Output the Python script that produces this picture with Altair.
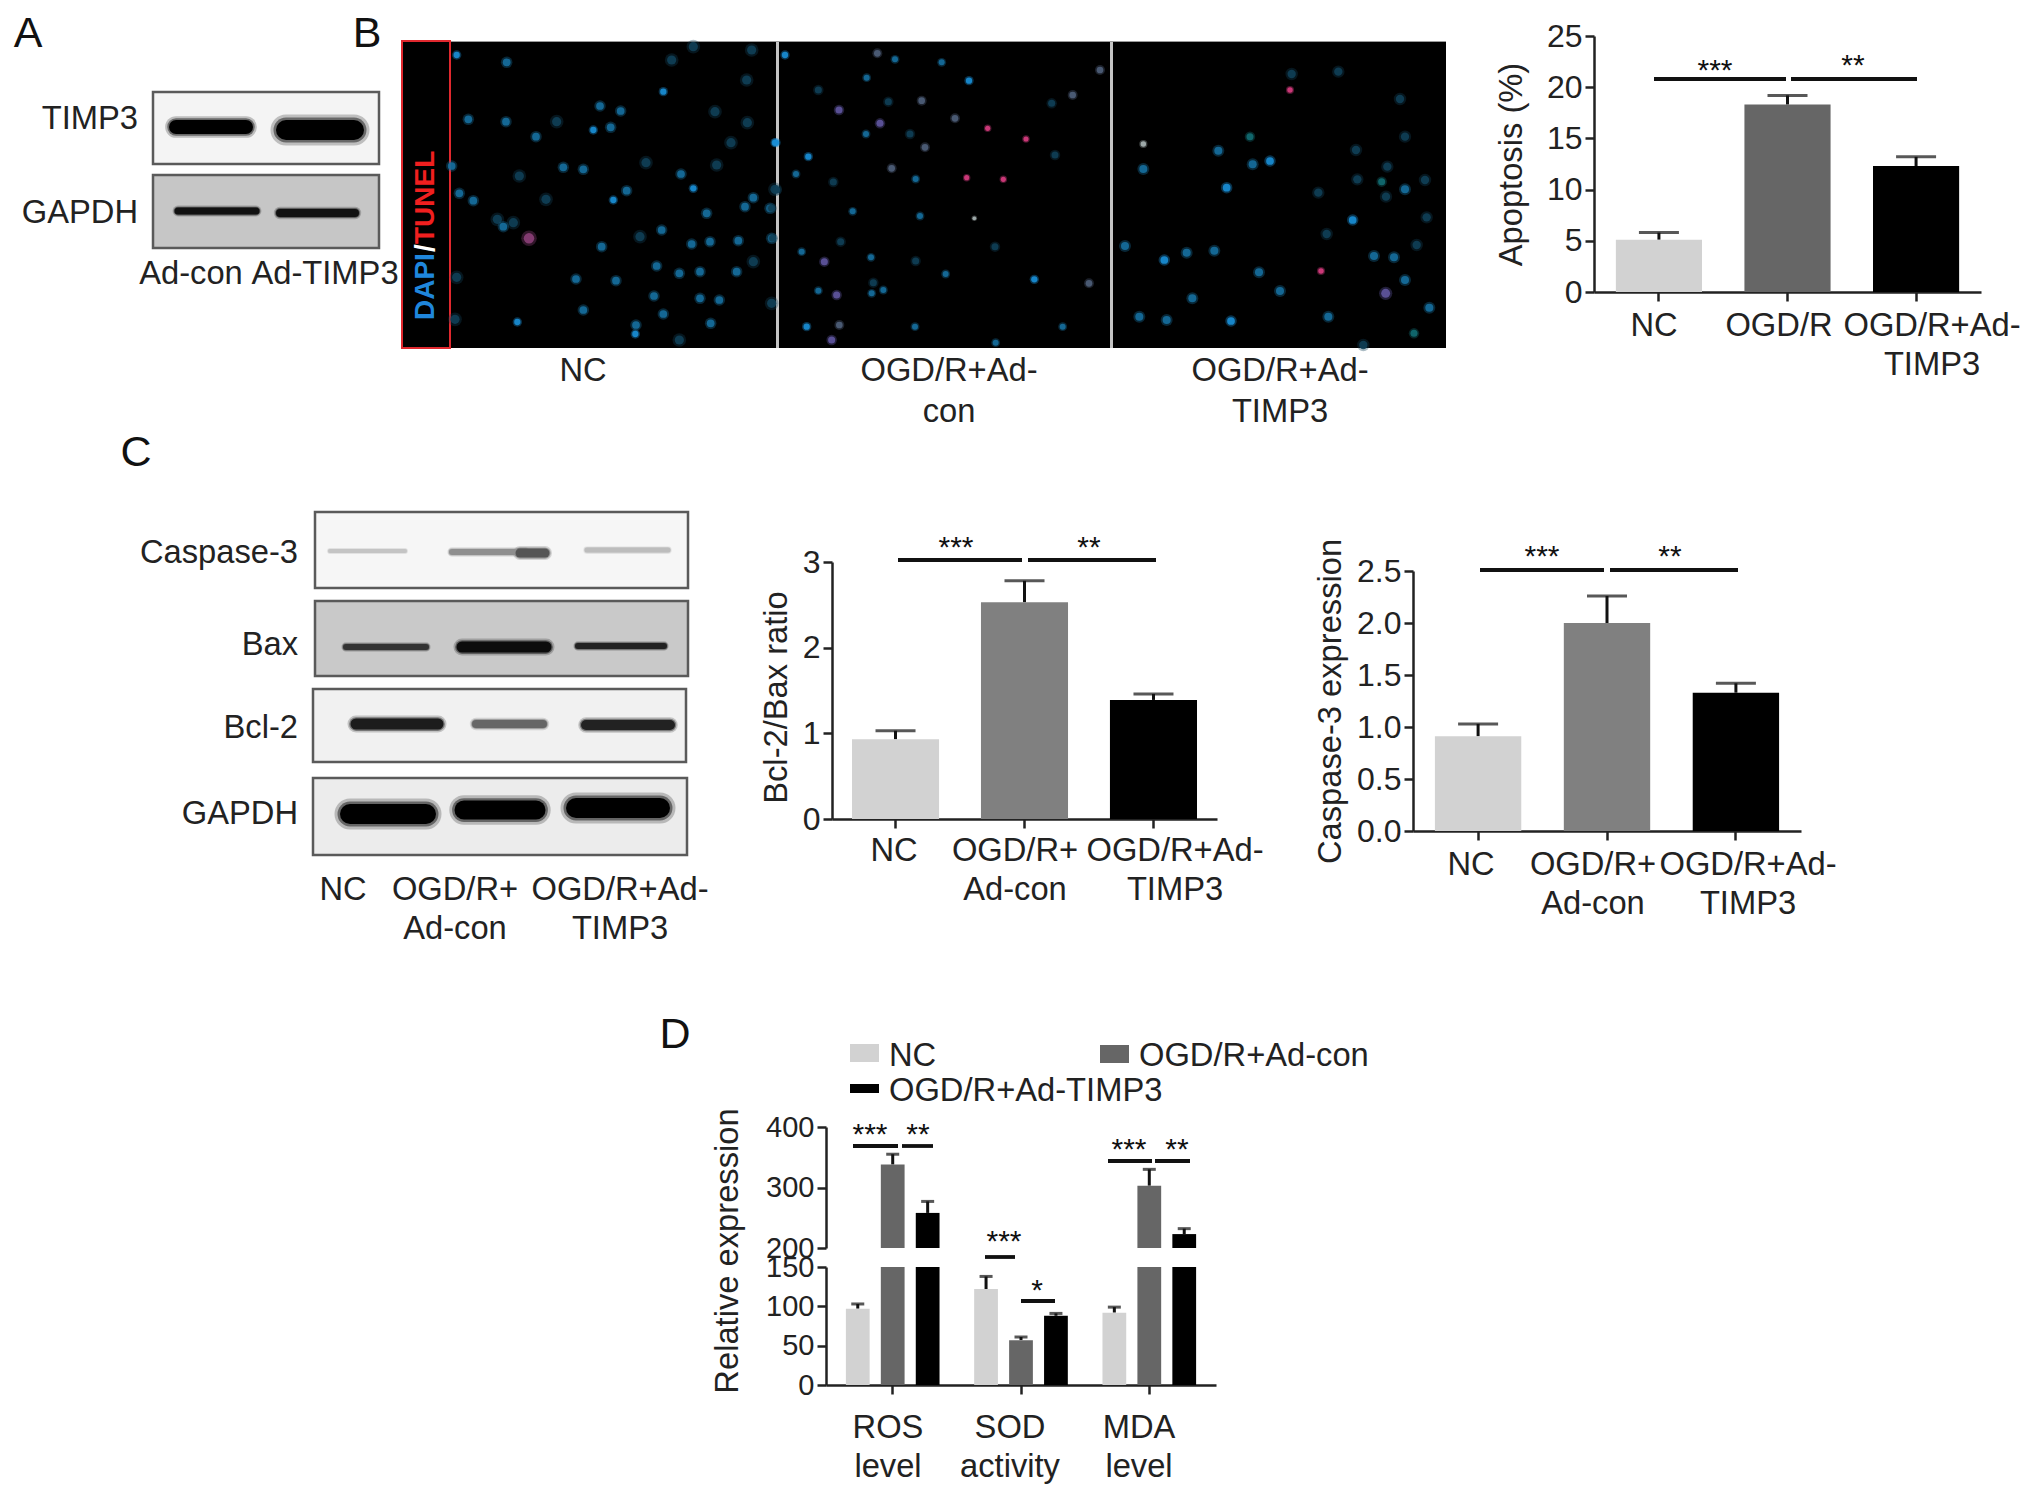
import altair as alt
import pandas as pd

FONT = "Liberation Sans"
INK = "#222222"
LIGHT, MID, MID2, DARK = "#d2d2d2", "#666666", "#808080", "#000000"

# ---- bar values
cats_b = ["NC", "OGD/R", "OGD/R+Ad-TIMP3"]
apop_vals = [5.1, 18.3, 12.3]
apop_errs = [5.8, 19.2, 13.2]
cats_c = ["NC", "OGD/R+Ad-con", "OGD/R+Ad-TIMP3"]
bcl_vals = [0.93, 2.53, 1.39]
bcl_errs = [1.03, 2.78, 1.46]
casp_vals = [0.91, 2.0, 1.33]
casp_errs = [1.03, 2.26, 1.42]
groups_d = ["ROS level", "SOD activity", "MDA level"]
series_d = ["NC", "OGD/R+Ad-con", "OGD/R+Ad-TIMP3"]
d_vals = [[97, 338, 258], [122, 57, 88], [92, 303, 223]]
d_errs = [[103, 355, 277], [138, 61, 91], [99, 330, 232]]

# ---- microscope fields: nuclei (crop px)
f1_norm = [(320,97),(205,268),(318,275),(600,228),(662,243),(632,292),(408,320),(155,408),(490,412),(550,418),(843,432),(178,490),(220,512),(680,482),(1060,503),(1035,530),(1110,535),(920,550),(310,590),(785,600),(605,650),(875,642),(930,635),(1015,632),(1115,625),(770,708),(838,730),(900,725),(1010,725),(528,747),(648,752),(762,798),(900,805),(958,810),(550,840),(790,852),(932,880),(708,885)]
f1_bright = [(170,75),(790,185),(580,300),(1125,338),(640,510),(880,475),(352,876),(706,912)]
f1_dim = [(815,90),(880,50),(1055,60),(1040,150),(470,275),(945,245),(1042,278),(993,338),(738,398),(950,405),(358,438),(438,508),(1125,478),(292,568),(340,578),(720,620),(1060,695),(170,742),(1115,820),(165,868),(838,930)]
f1_pink = [(387,625)]

f2_norm = [(375,88),(515,97),(290,143),(288,312),(78,432),(437,447),(248,544),(450,558),(95,665),(303,682),(527,732),(145,782),(305,790),(340,780),(435,890),(677,938),(878,890)]
f2_bright = [(45,75),(597,152),(18,338),(115,380),(793,748),(110,890)]
f2_dim = [(145,180),(355,215),(420,312),(190,456),(20,480),(5,535),(8,625),(212,635),(437,693),(675,650),(310,758),(845,220),(855,375)]
f2_gray = [(322,70),(455,212),(555,265),(465,352),(365,415),(957,760),(208,885),(908,195),(990,120)]
f2_purple = [(207,240),(330,280),(163,695),(200,795),(185,930)]
f2_pink = [(653,295),(768,327),(590,443),(700,448)]
f2_pale = [(613,565)]

f3_norm = [(355,362),(458,403),(130,417),(915,478),(75,648),(260,668),(343,662),(822,678),(882,682),(477,727),(915,750),(540,783),(277,805),(988,833),(118,860),(200,870),(685,860)]
f3_bright = [(510,393),(380,473),(758,570),(193,690),(393,873)]
f3_dim = [(575,132),(715,125),(900,207),(915,320),(768,360),(862,410),(772,448),(975,450),(655,488),(858,500),(980,562),(680,612),(950,645),(790,945)]
f3_teal = [(450,320),(845,455),(942,910)]
f3_pale = [(130,342)]
f3_purple = [(857,790)]
f3_pink = [(570,180),(663,723)]

# ---- blots: (x1, x2, y1, y2, fill)
blot_boxes = [
    (153, 379, 92, 164, "#f4f4f4"), (153, 379, 175, 248, "#c6c6c6"),
    (315, 688, 512, 588, "#f6f6f6"), (315, 688, 601, 676, "#c9c9c9"),
    (313, 686, 689, 762, "#f1f1f1"), (313, 687, 778, 855, "#ececec"),
]
# (x1, x2, y, thickness, colour)
blot_bands = [
    (176, 246, 127, 14, "#000000"), (286, 354, 130, 20, "#000000"),
    (178, 256, 211, 7, "#111111"), (280, 355, 213, 8, "#111111"),
    (330, 405, 551, 4, "#c4c4c4"), (452, 525, 552, 6, "#8f8f8f"), (520, 545, 553, 9, "#555555"), (587, 668, 550, 5, "#bcbcbc"),
    (346, 426, 647, 6, "#333333"), (462, 546, 647, 11, "#0c0c0c"), (578, 664, 646, 6, "#222222"),
    (356, 438, 724, 11, "#1c1c1c"), (476, 543, 724, 8, "#666666"), (586, 670, 725, 10, "#222222"),
    (350, 426, 814, 20, "#000000"), (464, 536, 810, 19, "#000000"), (576, 660, 808, 20, "#000000"),
]

# ---- brackets: (x1, x2, y)
brackets = [
    (1654, 1786, 79), (1791, 1917, 79),
    (898, 1022, 560), (1028, 1156, 560),
    (1480, 1604, 570), (1610, 1738, 570),
    (853, 898, 1146), (902, 933, 1146),
    (985, 1015, 1257), (1021, 1055, 1301),
    (1108, 1152, 1161), (1155, 1190, 1161),
]
# ---- significance: (text, x, y)
stars = [
    ("***", 1715, 69), ("**", 1853, 64),
    ("***", 956, 546), ("**", 1089, 546),
    ("***", 1542, 555), ("**", 1670, 555),
    ("***", 870, 1133), ("**", 918, 1133),
    ("***", 1004, 1240), ("*", 1037, 1289),
    ("***", 1129, 1148), ("**", 1177, 1148),
]
letters = [("A", 28, 32), ("B", 367, 32), ("C", 136, 451), ("D", 675, 1033)]
center_labels = [
    ("Ad-con", 191, 272), ("Ad-TIMP3", 325, 272),
    ("NC", 583, 369), ("OGD/R+Ad-", 949, 369), ("con", 949, 410), ("OGD/R+Ad-", 1280, 369), ("TIMP3", 1280, 410),
    ("NC", 1654, 324), ("OGD/R", 1779, 324), ("OGD/R+Ad-", 1932, 324), ("TIMP3", 1932, 363),
    ("NC", 343, 888), ("OGD/R+", 455, 888), ("Ad-con", 455, 927), ("OGD/R+Ad-", 620, 888), ("TIMP3", 620, 927),
    ("NC", 894, 849), ("OGD/R+", 1015, 849), ("Ad-con", 1015, 888), ("OGD/R+Ad-", 1175, 849), ("TIMP3", 1175, 888),
    ("NC", 1471, 863), ("OGD/R+", 1593, 863), ("Ad-con", 1593, 902), ("OGD/R+Ad-", 1748, 863), ("TIMP3", 1748, 902),
    ("ROS", 888, 1426), ("level", 888, 1465), ("SOD", 1010, 1426), ("activity", 1010, 1465), ("MDA", 1139, 1426), ("level", 1139, 1465),
]
right_labels = [("TIMP3", 138, 117), ("GAPDH", 138, 211), ("Caspase-3", 298, 551), ("Bax", 298, 643), ("Bcl-2", 298, 726), ("GAPDH", 298, 812)]
legend_text = [("NC", 889, 1054), ("OGD/R+Ad-con", 1139, 1054), ("OGD/R+Ad-TIMP3", 889, 1089)]
legend_boxes = [(850, 879, 1044, 1062, LIGHT), (1100, 1129, 1045, 1063, MID), (850, 879, 1084, 1093, DARK)]

W, H = 2016, 1470
TOP_PAD = 10
OX, OY = 8, 8 + TOP_PAD   # page px -> plot px
TEXT_DY = 2
PX = alt.Scale(domain=[0, 2032], range=[-OX, 2032 - OX])
PY = alt.Scale(domain=[0, 1496], range=[-OY, 1496 - OY])
px = lambda f="x": alt.X(f"{f}:Q", scale=PX, axis=None)
py = lambda f="y": alt.Y(f"{f}:Q", scale=PY, axis=None)


def texts(rows, size=32.7, align="center", color=INK, weight="normal", angle=0):
    df = pd.DataFrame(rows, columns=["t", "x", "y"])
    df["y"] = df["y"] + TEXT_DY
    return alt.Chart(df).mark_text(font=FONT, fontSize=size, align=align, baseline="middle",
                                   color=color, fontWeight=weight, angle=angle).encode(
        x=px(), y=py(), text="t:N")


def boxes(rows, stroke=None, sw=0):
    df = pd.DataFrame(rows, columns=["x", "x2", "y", "y2", "c"])
    kw = {"stroke": stroke, "strokeWidth": sw} if stroke else {}
    return alt.Chart(df).mark_rect(**kw).encode(
        x=px(), x2="x2:Q", y=py(), y2="y2:Q", color=alt.Color("c:N", scale=None))


def bands(rows, widen=1.0, opacity=1.0):
    df = pd.DataFrame(rows, columns=["x", "x2", "y", "t", "c"])
    df["t"] = df["t"] * widen
    return alt.Chart(df).mark_rule(strokeCap="round", opacity=opacity).encode(
        x=px(), x2="x2:Q", y=py(), size=alt.Size("t:Q", scale=None), color=alt.Color("c:N", scale=None))


def y_axis(x, values, title=None, fmt=None, tpad=6, lsize=32, title_y=None):
    kw = dict(orient="left", offset=-(x - OX), values=values, tickSize=9, tickWidth=2.5, tickColor=INK,
              domainWidth=2.5, domainColor=INK, labelFont=FONT, labelFontSize=lsize, labelColor=INK,
              labelPadding=3, grid=False, labelOverlap=False, labelBound=False, labelFlush=False)
    if fmt:
        kw["format"] = fmt
    if title:
        kw.update(title=title, titleFont=FONT, titleFontSize=32.7, titleFontWeight="normal",
                  titleColor=INK, titlePadding=tpad)
        if title_y is not None:
            kw["titleY"] = title_y - OY
    else:
        kw["title"] = None
    return alt.Axis(**kw)


def x_axis(y0):
    return alt.Axis(orient="bottom", offset=(y0 - OY) - H, labels=False, title=None, tickSize=9, tickWidth=2.5,
                    tickColor=INK, domainWidth=2.5, domainColor=INK, grid=False)


def bar_panel(cats, vals, errs, colors, xr, yr, dom, ticks, title, fmt=None, pad=0.2, inner=0.33, tpad=6, title_y=None):
    df = pd.DataFrame({"cat": cats, "v": vals, "e": errs, "c": colors})
    xs = alt.Scale(domain=cats, range=[xr[0] - OX, xr[1] - OX], paddingInner=inner, paddingOuter=pad)
    ys = alt.Scale(domain=dom, range=[yr[0] - OY, yr[1] - OY], nice=False, zero=True)
    X = alt.X("cat:N", scale=xs, sort=cats, axis=x_axis(yr[0]))
    ax = y_axis(xr[0], ticks, title, fmt, tpad, title_y=title_y)
    Y = alt.Y("v:Q", scale=ys, axis=ax)
    bar = alt.Chart(df).mark_bar().encode(x=X, y=Y, color=alt.Color("c:N", scale=None))
    stem = alt.Chart(df).mark_rule(color="#111111", strokeWidth=3).encode(x=X, y=Y, y2="e:Q")
    cap = alt.Chart(df).mark_tick(color="#111111", thickness=3, size=40).encode(
        x=X, y=alt.Y("e:Q", scale=ys, axis=ax))
    return alt.layer(stem, bar, cap)


def d_panel(rows, yr, dom, ticks, axis_x):
    df = pd.DataFrame(rows, columns=["g", "s", "v", "e", "c"])
    xs = alt.Scale(domain=groups_d, range=[826 - OX, 1216 - OX], paddingInner=0.27, paddingOuter=0.155)
    off = alt.XOffset("s:N", sort=series_d, scale=alt.Scale(domain=series_d, paddingInner=0.32, paddingOuter=0))
    ys = alt.Scale(domain=dom, range=[yr[0] - OY, yr[1] - OY], nice=False, zero=False, clamp=True)
    X = alt.X("g:N", scale=xs, sort=groups_d, axis=x_axis(yr[0]) if axis_x else None)
    ax = y_axis(826, ticks, lsize=29)
    Y = alt.Y("v:Q", scale=ys, axis=ax)
    df["base"] = dom[0]
    bar = alt.Chart(df).mark_bar().encode(x=X, xOffset=off, y=Y, y2="base:Q", color=alt.Color("c:N", scale=None))
    err = df[(df["e"] <= dom[1]) & (df["e"] >= dom[0])]
    stem = alt.Chart(err).mark_rule(color="#111111", strokeWidth=3).encode(x=X, xOffset=off, y=Y, y2="e:Q")
    cap = alt.Chart(err).mark_tick(color="#111111", thickness=3, size=13).encode(
        x=X, xOffset=off, y=alt.Y("e:Q", scale=ys, axis=ax))
    return alt.layer(stem, bar, cap)


def field(xdom, xr, ydom, yr, groups):
    layers = []
    xs = alt.Scale(domain=xdom, range=[xr[0] - OX, xr[1] - OX], nice=False, zero=False)
    ys = alt.Scale(domain=ydom, range=[yr[0] - OY, yr[1] - OY], nice=False, zero=False)
    for pts, col, size in groups:
        df = pd.DataFrame(pts, columns=["x", "y"])
        enc = dict(x=alt.X("x:Q", scale=xs, axis=None), y=alt.Y("y:Q", scale=ys, axis=None))
        layers.append(alt.Chart(df).mark_circle(color=col, size=size * 2.2, opacity=0.35).encode(**enc))
        layers.append(alt.Chart(df).mark_circle(color=col, size=size, opacity=0.9).encode(**enc))
    return alt.layer(*layers)


BRIGHT, NORM, DIM, GRAY, PURP, PINK, PALE, TEAL = ("#1a8ed6", "#166f9f", "#103f56", "#4f5f7a", "#5f55a0",
                                                  "#d83c80", "#a9b4b4", "#126d72")

f1 = field([0, 1170], [400, 790], [0, 990], [30, 360], [
    (f1_dim, DIM, 85), (f1_norm, NORM, 60), (f1_bright, BRIGHT, 40), (f1_pink, "#8c3f78", 110)])
f2 = field([0, 1050], [770, 1120], [0, 990], [30, 360], [
    (f2_dim, DIM, 50), (f2_gray, GRAY, 45), (f2_purple, PURP, 50), (f2_norm, NORM, 36),
    (f2_bright, BRIGHT, 40), (f2_pink, PINK, 26), (f2_pale, PALE, 14)])
f3 = field([0, 1050], [1100, 1450], [0, 990], [30, 360], [
    (f3_dim, DIM, 70), (f3_teal, TEAL, 50), (f3_norm, NORM, 65), (f3_bright, BRIGHT, 60),
    (f3_purple, PURP, 80), (f3_pale, PALE, 30), (f3_pink, PINK, 30)])

page_back = alt.layer(
    boxes([(402, 1446, 41, 348, "#000000")]),
    boxes([(402, 450, 41, 348, "#000000")], stroke="#e0282e", sw=2),
    boxes([(776, 779, 41, 348, "#c4c4c4"), (1110, 1113, 41, 348, "#c4c4c4"), (451, 1446, 41, 42, "#9a9a9a")]),
    boxes(blot_boxes, stroke="#5a5a5a", sw=2.5),
    bands(blot_bands, widen=1.55, opacity=0.22),
    bands(blot_bands, widen=1.25, opacity=0.45),
    bands(blot_bands),
)

rot = [
    texts([("DAPI", 426, 318)], size=28, align="left", color="#1f86dc", weight="bold", angle=270),
    texts([("/", 426, 250)], size=28, align="left", color="#ffffff", weight="bold", angle=270),
    texts([("TUNEL", 426, 242)], size=28, align="left", color="#f01f1f", weight="bold", angle=270),
    texts([("Relative expression", 728, 1249)], size=32.7, angle=270),
]
rule_df = pd.DataFrame(brackets, columns=["x", "x2", "y"])
page_front = alt.layer(
    alt.Chart(rule_df).mark_rule(color="#111111", strokeWidth=3.8).encode(x=px(), x2="x2:Q", y=py()),
    boxes(legend_boxes),
    texts(letters, size=43, color="#111111"),
    texts(center_labels),
    texts(right_labels, align="right"),
    texts(legend_text, align="left"),
    texts(stars, size=30, color="#111111"),
    *rot,
)

# x range = (y axis position / band start, band end)
apop = bar_panel(cats_b, apop_vals, apop_errs, [LIGHT, MID, DARK], (1594, 1981), (292, 36), [0, 25],
                 [0, 5, 10, 15, 20, 25], "Apoptosis (%)", pad=0.17, tpad=18)
bcl = bar_panel(cats_c, bcl_vals, bcl_errs, [LIGHT, MID2, DARK], (832, 1217), (819, 562), [0, 3],
                [0, 1, 2, 3], "Bcl-2/Bax ratio", pad=0.155, inner=0.325, tpad=9, title_y=697)
casp = bar_panel(cats_c, casp_vals, casp_errs, [LIGHT, MID2, DARK], (1413, 1801), (831, 571), [0, 2.5],
                 [0, 0.5, 1.0, 1.5, 2.0, 2.5], "Caspase-3 expression", fmt=".1f", pad=0.17, tpad=9)

colors_d = [LIGHT, MID, DARK]
rows_d = [(g, s, d_vals[i][j], d_errs[i][j], colors_d[j])
          for i, g in enumerate(groups_d) for j, s in enumerate(series_d)]
d_low = d_panel(rows_d, (1385, 1267), [0, 150], [0, 50, 100, 150], True)
d_up = d_panel([r for r in rows_d if r[2] > 200], (1248, 1127), [200, 400], [200, 300, 400], False)

chart = alt.layer(
    page_back, f1, f2, f3, apop, bcl, casp, d_low, d_up, page_front
).resolve_scale(x="independent", y="independent").properties(
    width=W, height=H, padding={"left": 0, "top": TOP_PAD, "right": 0, "bottom": 0}, background="white",
    autosize=alt.AutoSizeParams(type="none")
).configure_view(stroke=None)

chart.save("out.html", embed_options={"renderer": "svg", "actions": False})
